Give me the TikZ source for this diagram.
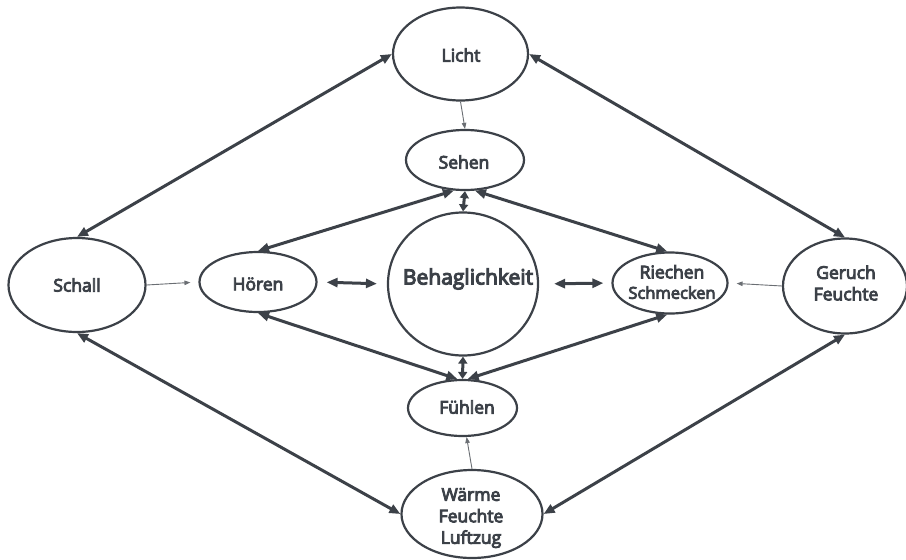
\documentclass[tikz,border=0pt]{standalone}
\usepackage{fontspec}
\setmainfont{Open Sans}
\newfontfamily\lblfont{Open Sans}[FakeBold=5]
\usetikzlibrary{arrows.meta,shapes.geometric}
\definecolor{ink}{HTML}{3C4148}
\definecolor{thin}{HTML}{6A6E73}
\begin{document}
\begin{tikzpicture}[x=1pt,y=-1pt,
  oval/.style={ellipse,draw=ink,line width=2.2pt,inner sep=0pt},
  lbl/.style={text=ink,align=center,inner sep=0pt,font=\lblfont\fontsize{17.5}{21.5}\selectfont},
  both/.style={{Triangle[length=11pt,width=9pt]}-{Triangle[length=11pt,width=9pt]},draw=ink,line width=3pt},
  bothshort/.style={{Triangle[length=7pt,width=9pt]}-{Triangle[length=7pt,width=9pt]},draw=ink,line width=3pt},
  small/.style={-{Triangle[length=6pt,width=4.5pt]},draw=thin,line width=0.9pt}]
\useasboundingbox (0,0) rectangle (906,560);
\fill[white] (0,0) rectangle (906,560);
% nodes
\node[oval,minimum width=135pt,minimum height=93pt] (licht) at (460.5,54) {};
\node[lbl] (lichtT) at (461,55) {Licht};
\node[oval,minimum width=118pt,minimum height=60pt] (sehen) at (465,160) {};
\node[lbl] (sehenT) at (464,162) {Sehen};
\node[oval,minimum width=150pt,minimum height=143pt] (behag) at (463,284) {};
\node[lbl,font=\lblfont\fontsize{21}{24}\selectfont] (behagT) at (468,279) {Behaglichkeit};
\node[oval,minimum width=117pt,minimum height=60pt] (hoeren) at (258,282) {};
\node[lbl] (hoerenT) at (258,284) {Hören};
\node[oval,minimum width=115pt,minimum height=61pt] (riechen) at (670,283) {};
\node[lbl] (riechenT) at (672,282) {Riechen\\[-1pt]{\fontsize{16.5}{20}\selectfont Schmecken}};
\node[oval,minimum width=137pt,minimum height=94pt] (schall) at (77,285) {};
\node[lbl] (schallT) at (77,285) {Schall};
\node[oval,minimum width=124pt,minimum height=95pt] (geruch) at (845,286) {};
\node[lbl] (geruchT) at (846,283) {Geruch\\Feuchte};
\node[oval,minimum width=109pt,minimum height=56pt] (fuehlen) at (462.5,408) {};
\node[lbl] (fuehlenT) at (467,407) {Fühlen};
\node[oval,minimum width=141pt,minimum height=88pt] (waerme) at (472,514) {};
\node[lbl] (waermeT) at (471,518) {Wärme\\Feuchte\\Luftzug};
% outer double arrows
\draw[both] (licht.west) -- (schall.north);
\draw[both] (licht.east) -- (geruch.north);
\draw[both] (schall.south) -- (waerme.west);
\draw[both] (geruch.south) -- (waerme.east);
% inner double arrows
\draw[both] (sehen.250) -- (hoeren.north);
\draw[both] (sehen.288) -- (riechen.95);
\draw[bothshort] (sehen.south) -- (behag.north);
\draw[both,shorten <=9pt,shorten >=10pt] (hoeren.east) -- (behag.west);
\draw[both,shorten <=15pt,shorten >=8pt] (behag.east) -- (riechen.west);
\draw[both] (hoeren.south) -- (fuehlen.100);
\draw[both] (riechen.265) -- (fuehlen.80);
\draw[bothshort] (behag.south) -- (fuehlen.north);
% thin arrows
\draw[small] (licht.south) -- (sehen.north);
\draw[small,shorten >=8pt] (schall.east) -- (hoeren.west);
\draw[small,shorten >=8pt] (geruch.west) -- (riechen.east);
\draw[small] (waerme.north) -- (fuehlen.-82);
\end{tikzpicture}
\end{document}
